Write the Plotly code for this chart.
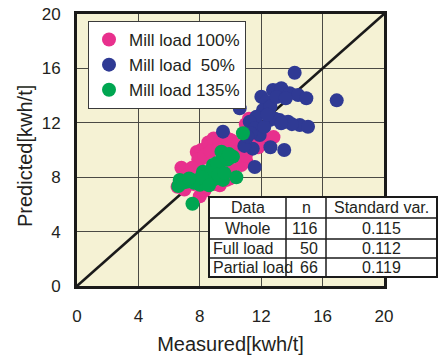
import plotly.graph_objects as go

# Measured vs predicted specific energy [kWh/t]
full_x = [6.8, 6.55, 8.0, 7.8, 8.1, 8.55, 8.9, 9.3, 9.95, 10.06,
          10.8, 11.03, 10.6, 11.2, 12.3, 11.9, 8.85, 9.75, 9.05, 8.2,
          8.45, 9.0, 9.95, 7.9, 8.3, 8.7, 9.2, 9.6, 10.3, 10.5,
          10.2, 9.8, 11.2, 11.6, 12.0, 11.0, 7.2, 7.5, 8.7, 9.4,
          10.0, 10.7, 11.0, 7.0, 7.6, 8.3, 9.3, 12.8, 11.8, 9.7]
full_y = [8.7, 7.3, 6.6, 9.85, 10.0, 10.55, 10.85, 10.5, 10.75, 10.7,
          10.1, 9.15, 9.4, 12.3, 10.8, 10.74, 7.65, 7.8, 8.75, 9.4,
          7.8, 7.5, 7.9, 9.3, 9.6, 9.9, 10.1, 10.3, 10.4, 9.9,
          9.6, 9.2, 10.4, 11.0, 11.3, 11.9, 8.2, 8.7, 8.3, 8.9,
          8.6, 8.9, 9.6, 7.1, 7.5, 7.0, 7.4, 10.95, 10.2, 10.9]

half_x = [14.18, 16.92, 10.6, 9.51, 11.58, 13.5, 12.6, 11.45, 10.9, 12.01,
          12.77, 13.31, 13.86, 14.4, 14.94, 12.34, 12.12, 11.69, 11.25, 12.55,
          13.2, 13.75, 14.51, 15.05, 11.58, 11.9, 12.9, 12.6, 13.0, 11.3,
          12.2, 13.6, 12.4, 14.0, 11.1, 13.3]
half_y = [15.68, 13.65, 13.07, 11.35, 8.75, 10.0, 10.2, 10.1, 10.3, 13.92,
          14.41, 14.54, 14.17, 14.04, 13.8, 13.55, 12.94, 12.45, 12.08, 12.2,
          12.2, 12.08, 11.84, 11.71, 11.6, 11.1, 12.3, 13.2, 13.9, 11.25,
          11.7, 13.8, 12.6, 11.9, 11.0, 11.96]

over_x = [7.52, 6.69, 6.6, 7.13, 7.88, 8.21, 8.86, 9.19, 9.51, 9.41,
          10.16, 10.81, 10.38, 9.51, 8.86, 7.45, 8.0, 8.5, 8.75, 9.1,
          9.8, 7.6, 8.4, 9.2, 8.1, 6.9, 9.6, 8.6, 9.9, 7.3]
over_y = [6.05, 7.8, 7.35, 7.67, 7.8, 8.4, 8.9, 8.77, 9.51, 9.88,
          9.51, 11.23, 8.0, 7.8, 7.8, 7.8, 7.45, 8.1, 8.55, 9.05,
          9.3, 7.6, 7.7, 8.2, 8.0, 7.6, 8.3, 7.4, 9.7, 7.9]

series_names = ["Mill load 100%", "Mill load\u00a0\u00a050%", "Mill load 135%"]
series_colors = ["#E8308D", "#2F3A94", "#00A651"]

axis_ticks = [0, 4, 8, 12, 16, 20]
ideal_line = [0, 20]
x_title = "Measured[kwh/t]"
y_title = "Predicted[kwh/t]"

table_header = ["Data", "n", "Standard var."]
table_rows = [["Whole", "116", "0.115"],
              ["Full load", "50", "0.112"],
              ["Partial load", "66", "0.119"]]

W, H = 444, 356
L, R, T, B = 77, 384, 14, 286
TXT = "#231F20"
FONT = "Liberation Sans, Arial, sans-serif"


def px(x):
    return (x - L) / (R - L)


def py(y):
    return (B - y) / (B - T)


fig = go.Figure()

fig.add_trace(go.Scatter(x=ideal_line, y=ideal_line, mode="lines",
                         line=dict(color="#1a1a1a", width=2.6),
                         showlegend=False, hoverinfo="skip"))

for xs, ys, name, col in zip([full_x, half_x, over_x], [full_y, half_y, over_y],
                             series_names, series_colors):
    fig.add_trace(go.Scatter(x=xs, y=ys, mode="markers", name=name,
                             marker=dict(color=col, size=14, line=dict(width=0))))

axis_common = dict(range=[0, 20], tickvals=axis_ticks, showgrid=True,
                   gridcolor="#4a4a44", gridwidth=1, zeroline=False,
                   showline=True, mirror=True, linecolor="#1a1a1a", linewidth=3,
                   ticks="outside", tickcolor="rgba(0,0,0,0)", automargin=False,
                   tickfont=dict(size=17, color=TXT, family=FONT), fixedrange=True)

fig.update_xaxes(**axis_common, ticklen=13,
                 title=dict(text=x_title, standoff=12,
                            font=dict(size=20, color=TXT, family=FONT)))
fig.update_yaxes(**axis_common, ticklen=10)

# summary table drawn over the lower-right corner
col_edges = [209, 286, 326, 437]
row_edges = [197, 218, 239, 258, 277]
shapes = [dict(type="rect", xref="paper", yref="paper",
               x0=px(col_edges[0]), x1=px(col_edges[-1]),
               y0=py(row_edges[-1]), y1=py(row_edges[0]),
               fillcolor="white", line=dict(color="#1a1a1a", width=2), layer="above")]
for yv in row_edges[1:-1]:
    shapes.append(dict(type="line", xref="paper", yref="paper",
                       x0=px(col_edges[0]), x1=px(col_edges[-1]), y0=py(yv), y1=py(yv),
                       line=dict(color="#1a1a1a", width=1.5), layer="above"))
for xv in col_edges[1:-1]:
    shapes.append(dict(type="line", xref="paper", yref="paper",
                       x0=px(xv), x1=px(xv), y0=py(row_edges[-1]), y1=py(row_edges[0]),
                       line=dict(color="#1a1a1a", width=1.5), layer="above"))

annotations = []
cell_font = dict(size=16, color=TXT, family=FONT)
rows = [table_header] + table_rows
for i, row in enumerate(rows):
    yc = py((row_edges[i] + row_edges[i + 1]) / 2)
    for j, txt in enumerate(row):
        x0, x1 = col_edges[j], col_edges[j + 1]
        if j == 0 and i >= 2:
            annotations.append(dict(x=px(x0 + 2), y=yc, text=txt, xanchor="left"))
        elif j == 1 and i >= 1:
            annotations.append(dict(x=px(x1 - 6), y=yc, text=txt, xanchor="right"))
        else:
            annotations.append(dict(x=px((x0 + x1) / 2), y=yc, text=txt, xanchor="center"))
for a in annotations:
    a.update(xref="paper", yref="paper", yanchor="middle", showarrow=False, font=cell_font)

# vertical axis title placed beside the tick labels
annotations.append(dict(xref="paper", yref="paper", x=px(25), y=py(156),
                        xanchor="center", yanchor="middle", textangle=-90,
                        text=y_title, showarrow=False,
                        font=dict(size=20, color=TXT, family=FONT)))

fig.update_layout(
    width=W, height=H,
    margin=dict(l=L, r=W - R, t=T, b=H - B, autoexpand=False),
    paper_bgcolor="white", plot_bgcolor="#F5F2D4",
    font=dict(family=FONT, color=TXT),
    legend=dict(x=px(88), y=py(21), xanchor="left", yanchor="top",
                bgcolor="white", bordercolor="#3a3a3a", borderwidth=1,
                font=dict(size=17, color=TXT, family=FONT),
                itemwidth=30, tracegroupgap=0),
    shapes=shapes, annotations=annotations,
    showlegend=True,
)

fig.write_html("out.html")
